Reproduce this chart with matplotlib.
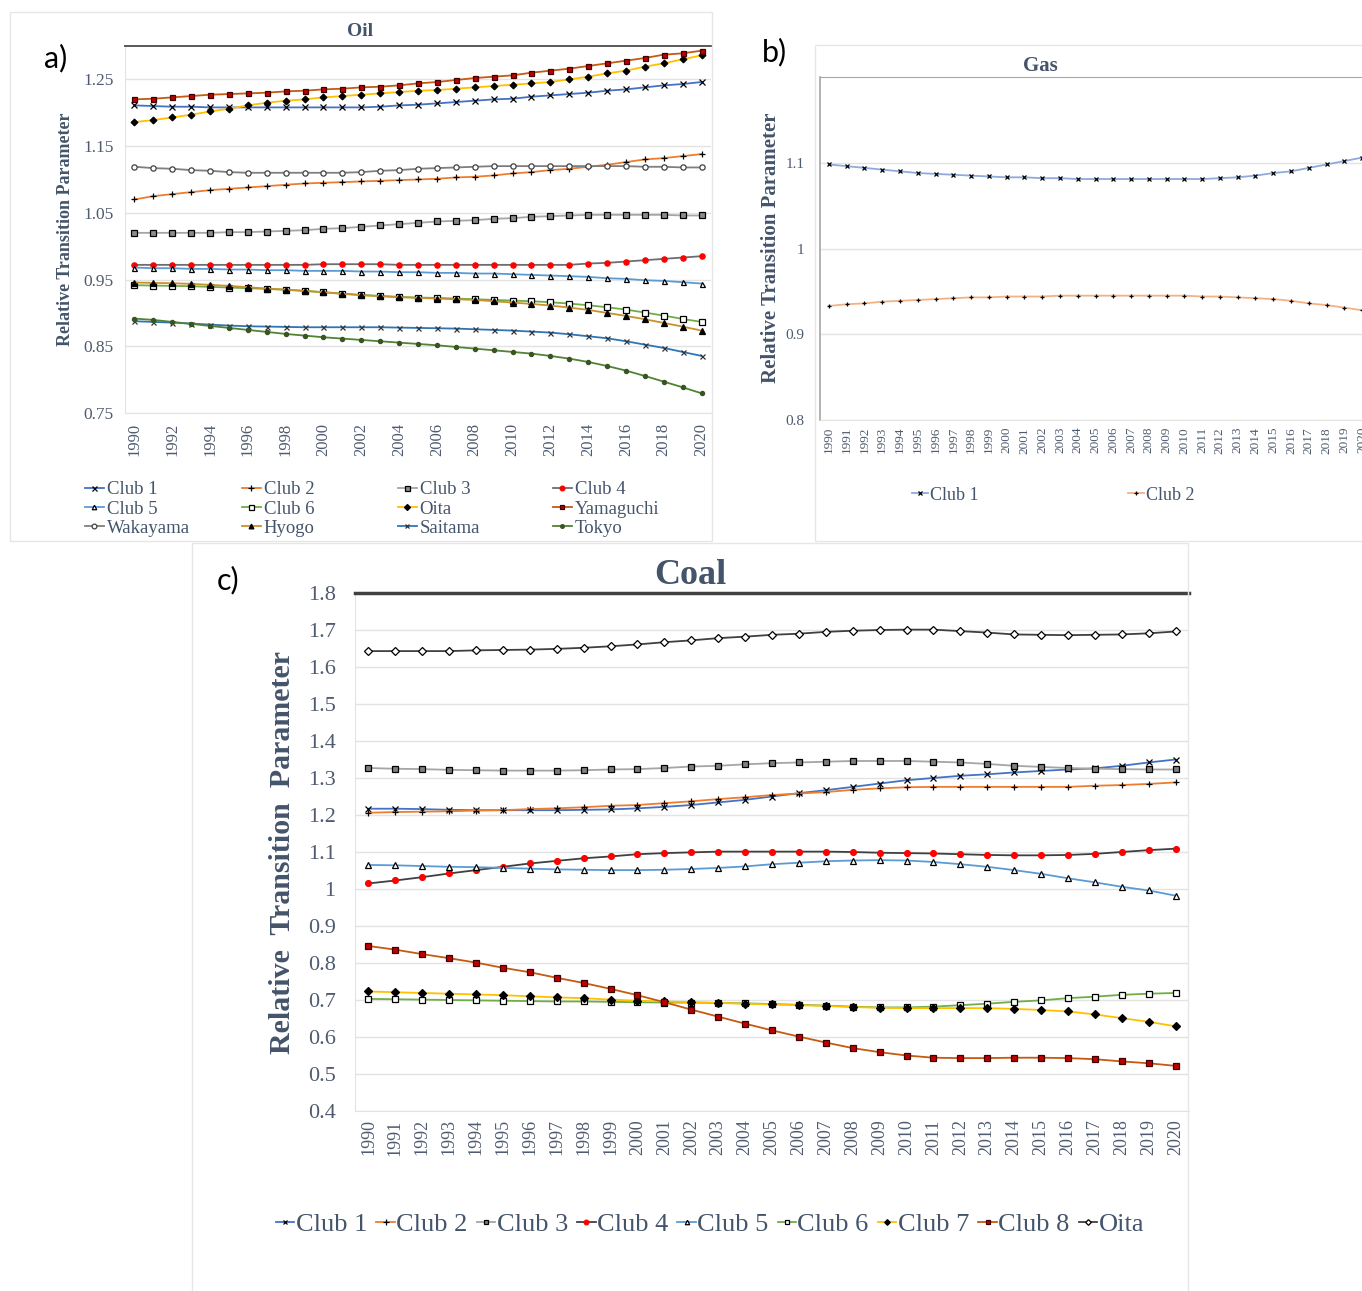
import matplotlib
matplotlib.use("Agg")
import matplotlib.pyplot as plt
from matplotlib.patches import Rectangle

plt.rcParams['font.family'] = ['Liberation Serif', 'DejaVu Serif']

years = list(range(1990, 2021))

# ---------------- Oil ----------------
oil_club1 = [1.211,1.210,1.209,1.209,1.208,1.208,1.208,1.208,1.208,1.208,1.208,1.208,1.208,1.209,1.211,1.212,1.214,1.216,1.218,1.220,1.221,1.224,1.226,1.228,1.230,1.233,1.235,1.238,1.241,1.243,1.246]
oil_club2 = [1.070,1.075,1.078,1.081,1.084,1.086,1.088,1.090,1.092,1.094,1.095,1.096,1.097,1.098,1.099,1.100,1.101,1.103,1.104,1.106,1.109,1.111,1.114,1.116,1.119,1.122,1.126,1.130,1.132,1.135,1.138]
oil_club3 = [1.020,1.020,1.020,1.020,1.020,1.021,1.021,1.022,1.023,1.024,1.026,1.027,1.029,1.031,1.033,1.035,1.037,1.038,1.039,1.041,1.042,1.044,1.045,1.046,1.047,1.047,1.047,1.047,1.047,1.046,1.046]
oil_club4 = [0.972,0.972,0.972,0.972,0.972,0.972,0.972,0.972,0.972,0.972,0.973,0.973,0.973,0.973,0.972,0.972,0.972,0.972,0.972,0.972,0.972,0.972,0.972,0.972,0.974,0.975,0.977,0.979,0.981,0.983,0.985]
oil_club5 = [0.968,0.967,0.967,0.966,0.966,0.965,0.965,0.964,0.964,0.963,0.963,0.963,0.962,0.962,0.961,0.961,0.960,0.960,0.959,0.959,0.958,0.957,0.956,0.955,0.954,0.952,0.951,0.949,0.948,0.946,0.944]
oil_club6 = [0.9415,0.941,0.9405,0.940,0.939,0.938,0.937,0.936,0.9345,0.933,0.931,0.929,0.927,0.9255,0.924,0.923,0.9225,0.9215,0.9205,0.9195,0.9185,0.9175,0.916,0.914,0.9115,0.9085,0.905,0.9005,0.896,0.891,0.8865]
oil_oita = [1.186,1.189,1.193,1.197,1.202,1.206,1.211,1.215,1.218,1.220,1.223,1.225,1.227,1.229,1.231,1.233,1.234,1.236,1.238,1.240,1.242,1.244,1.246,1.250,1.254,1.259,1.263,1.269,1.274,1.280,1.286]
oil_yamaguchi = [1.220,1.221,1.223,1.225,1.227,1.228,1.229,1.230,1.232,1.233,1.235,1.236,1.238,1.239,1.241,1.244,1.246,1.249,1.252,1.254,1.256,1.260,1.263,1.266,1.270,1.274,1.278,1.282,1.287,1.289,1.293]
oil_wakayama = [1.119,1.117,1.116,1.114,1.113,1.111,1.110,1.110,1.110,1.110,1.110,1.110,1.111,1.113,1.114,1.116,1.117,1.118,1.119,1.120,1.120,1.120,1.120,1.120,1.120,1.120,1.120,1.119,1.119,1.118,1.118]
oil_hyogo = [0.9455,0.945,0.9445,0.9435,0.942,0.9405,0.9385,0.9365,0.935,0.933,0.931,0.9285,0.9265,0.925,0.9235,0.9225,0.9215,0.9205,0.9195,0.9175,0.9155,0.9135,0.911,0.908,0.9045,0.900,0.8955,0.8905,0.885,0.8795,0.8735]
oil_saitama = [0.8875,0.8865,0.8855,0.884,0.8825,0.881,0.880,0.8795,0.879,0.8785,0.8785,0.8785,0.8785,0.8785,0.878,0.8775,0.877,0.8765,0.8755,0.8745,0.8735,0.872,0.8705,0.868,0.865,0.862,0.8575,0.8525,0.8475,0.8415,0.8355]
oil_tokyo = [0.8915,0.8895,0.8865,0.8835,0.8805,0.8775,0.8745,0.8715,0.8685,0.866,0.8635,0.8615,0.8595,0.8575,0.8555,0.8535,0.8515,0.849,0.8465,0.844,0.8415,0.839,0.8355,0.8315,0.8265,0.8205,0.8135,0.8055,0.797,0.7885,0.7795]

oil_names = ["Club 1", "Club 2", "Club 3", "Club 4", "Club 5", "Club 6",
             "Oita", "Yamaguchi", "Wakayama", "Hyogo", "Saitama", "Tokyo"]
oil_series = [oil_club1, oil_club2, oil_club3, oil_club4, oil_club5, oil_club6,
              oil_oita, oil_yamaguchi, oil_wakayama, oil_hyogo, oil_saitama, oil_tokyo]
oil_yticks = [0.75, 0.85, 0.95, 1.05, 1.15, 1.25]

# ---------------- Gas ----------------
gas_club1 = [1.098,1.096,1.094,1.092,1.090,1.088,1.087,1.086,1.085,1.084,1.083,1.083,1.082,1.082,1.081,1.081,1.081,1.081,1.081,1.081,1.081,1.081,1.082,1.083,1.085,1.088,1.090,1.094,1.098,1.102,1.106]
gas_club2 = [0.933,0.935,0.936,0.938,0.939,0.940,0.941,0.942,0.943,0.943,0.944,0.944,0.944,0.945,0.945,0.945,0.945,0.945,0.945,0.945,0.945,0.944,0.944,0.943,0.942,0.941,0.939,0.936,0.934,0.931,0.928]
gas_names = ["Club 1", "Club 2"]
gas_series = [gas_club1, gas_club2]
gas_yticks = [0.8, 0.9, 1.0, 1.1]
gas_yticklabels = ["0.8", "0.9", "1", "1.1"]

# ---------------- Coal ----------------
coal_club1 = [1.217,1.217,1.216,1.214,1.213,1.213,1.213,1.213,1.214,1.215,1.218,1.222,1.227,1.234,1.241,1.250,1.259,1.267,1.276,1.285,1.294,1.300,1.306,1.310,1.315,1.319,1.323,1.326,1.333,1.342,1.350]
coal_club2 = [1.206,1.208,1.209,1.210,1.212,1.213,1.216,1.218,1.221,1.225,1.227,1.232,1.237,1.243,1.248,1.254,1.258,1.262,1.268,1.272,1.275,1.276,1.276,1.276,1.276,1.276,1.276,1.279,1.281,1.284,1.288]
coal_club3 = [1.327,1.325,1.324,1.322,1.321,1.320,1.320,1.320,1.321,1.323,1.324,1.327,1.331,1.333,1.337,1.340,1.342,1.344,1.346,1.346,1.346,1.344,1.342,1.338,1.333,1.330,1.327,1.325,1.324,1.323,1.323]
coal_club4 = [1.015,1.023,1.032,1.042,1.051,1.060,1.069,1.076,1.083,1.088,1.094,1.097,1.099,1.101,1.101,1.101,1.101,1.101,1.100,1.098,1.097,1.096,1.094,1.092,1.091,1.091,1.092,1.095,1.100,1.105,1.109]
coal_club5 = [1.065,1.064,1.062,1.060,1.059,1.057,1.055,1.053,1.052,1.051,1.051,1.052,1.054,1.057,1.061,1.067,1.071,1.075,1.077,1.078,1.077,1.073,1.067,1.060,1.051,1.041,1.029,1.018,1.006,0.996,0.982]
coal_club6 = [0.703,0.702,0.701,0.700,0.699,0.698,0.697,0.696,0.696,0.695,0.694,0.693,0.693,0.692,0.691,0.689,0.687,0.685,0.682,0.680,0.680,0.682,0.686,0.690,0.695,0.699,0.705,0.709,0.714,0.717,0.719]
coal_club7 = [0.723,0.721,0.719,0.717,0.715,0.713,0.710,0.707,0.705,0.701,0.698,0.696,0.694,0.692,0.690,0.688,0.686,0.684,0.681,0.679,0.678,0.678,0.678,0.678,0.676,0.673,0.669,0.661,0.651,0.641,0.629]
coal_club8 = [0.846,0.836,0.824,0.813,0.801,0.787,0.775,0.760,0.746,0.730,0.713,0.694,0.674,0.655,0.636,0.618,0.601,0.585,0.570,0.559,0.550,0.544,0.543,0.543,0.544,0.544,0.543,0.540,0.534,0.529,0.522]
coal_oita = [1.643,1.643,1.643,1.643,1.645,1.646,1.647,1.649,1.652,1.656,1.661,1.667,1.672,1.678,1.682,1.687,1.690,1.695,1.698,1.700,1.701,1.701,1.697,1.693,1.688,1.687,1.686,1.687,1.688,1.691,1.696]
coal_names = ["Club 1", "Club 2", "Club 3", "Club 4", "Club 5", "Club 6", "Club 7", "Club 8", "Oita"]
coal_series = [coal_club1, coal_club2, coal_club3, coal_club4, coal_club5, coal_club6,
               coal_club7, coal_club8, coal_oita]
coal_yticks = [0.4, 0.5, 0.6, 0.7, 0.8, 0.9, 1.0, 1.1, 1.2, 1.3, 1.4, 1.5, 1.6, 1.7, 1.8]
coal_yticklabels = ["0.4", "0.5", "0.6", "0.7", "0.8", "0.9", "1", "1.1", "1.2", "1.3",
                    "1.4", "1.5", "1.6", "1.7", "1.8"]

# ---------------- styles ----------------
oil_style = {
    "Club 1":    dict(color="#4472C4", marker="x", mfc="k", mec="k", ms=4.0),
    "Club 2":    dict(color="#ED7D31", marker="+", mfc="k", mec="k", ms=4.5),
    "Club 3":    dict(color="#A5A5A5", marker="s", mfc="#8C8C8C", mec="k", ms=4.0),
    "Club 4":    dict(color="#6E6E6E", marker="o", mfc="#FF0000", mec="#FF0000", ms=3.8),
    "Club 5":    dict(color="#5B9BD5", marker="^", mfc="white", mec="k", ms=3.6),
    "Club 6":    dict(color="#70AD47", marker="s", mfc="white", mec="k", ms=4.0),
    "Oita":      dict(color="#FFC000", marker="D", mfc="k", mec="k", ms=3.4),
    "Yamaguchi": dict(color="#C55A11", marker="s", mfc="#C00000", mec="#400000", ms=3.6),
    "Wakayama":  dict(color="#7F7F7F", marker="o", mfc="white", mec="#404040", ms=3.8),
    "Hyogo":     dict(color="#C9912B", marker="^", mfc="k", mec="k", ms=3.8),
    "Saitama":   dict(color="#2E75B6", marker="x", mfc="k", mec="#333333", ms=3.6),
    "Tokyo":     dict(color="#548235", marker="o", mfc="#375623", mec="#375623", ms=3.0),
}
coal_style = {
    "Club 1": dict(color="#4472C4", marker="x", mfc="k", mec="k", ms=4.4),
    "Club 2": dict(color="#ED7D31", marker="+", mfc="k", mec="k", ms=5.0),
    "Club 3": dict(color="#A5A5A5", marker="s", mfc="#7F7F7F", mec="k", ms=4.2),
    "Club 4": dict(color="#404040", marker="o", mfc="#FF0000", mec="#FF0000", ms=4.2),
    "Club 5": dict(color="#5B9BD5", marker="^", mfc="white", mec="k", ms=4.0),
    "Club 6": dict(color="#70AD47", marker="s", mfc="white", mec="k", ms=4.2),
    "Club 7": dict(color="#FFC000", marker="D", mfc="k", mec="k", ms=3.6),
    "Club 8": dict(color="#C55A11", marker="s", mfc="#C00000", mec="#400000", ms=3.8),
    "Oita":   dict(color="#404040", marker="D", mfc="white", mec="k", ms=3.6),
}
gas_style = {
    "Club 1": dict(color="#8FAADC", marker="x", mfc="k", mec="k", ms=3.2),
    "Club 2": dict(color="#F4B183", marker="+", mfc="k", mec="k", ms=3.4),
}

TXT = "#44546A"
TICK = "#4F5B70"
GRID = "#E3E3E3"

W, H = 1362, 1291
fig = plt.figure(figsize=(W / 100, H / 100), dpi=100)
fig.patch.set_facecolor("white")


def fx(x):
    return x / W


def fy(y):
    return 1 - y / H


def add_ax(l, t, r, b):
    return fig.add_axes([fx(l), fy(b), (r - l) / W, (b - t) / H])


# faint panel frames
for (x0, y0, x1, y1) in [(10, 12, 712, 541), (815, 45, 1372, 541), (192, 543, 1188, 1300)]:
    fig.patches.append(Rectangle((fx(x0), fy(y1)), (x1 - x0) / W, (y1 - y0) / H,
                                 transform=fig.transFigure, fill=False,
                                 edgecolor="#E6E6E6", lw=1.0, zorder=0))

x_idx = list(range(len(years)))


def style_axis(ax, yticks, ylabels, ylim, ytick_fs, xtick_fs, xstep, ypad, xpad):
    ax.set_xlim(-0.5, len(years) - 0.5)
    ax.set_ylim(*ylim)
    ax.set_yticks(yticks)
    ax.set_yticklabels(ylabels)
    ax.set_xticks(x_idx[::xstep])
    ax.set_xticklabels([str(y) for y in years[::xstep]], rotation=90)
    ax.tick_params(axis="y", length=0, labelsize=ytick_fs, labelcolor=TICK, pad=ypad)
    ax.tick_params(axis="x", length=0, labelsize=xtick_fs, labelcolor=TICK, pad=xpad)
    ax.grid(axis="y", color=GRID, lw=1.0)
    ax.set_axisbelow(True)
    ax.spines["right"].set_visible(False)
    ax.spines["bottom"].set_color(GRID)
    ax.spines["left"].set_color(GRID)


def draw(ax, names, series, styles, lw):
    out = {}
    for name, vals in zip(names, series):
        st = styles[name]
        ln, = ax.plot(x_idx, vals, color=st["color"], lw=lw, marker=st["marker"],
                      markersize=st["ms"], markerfacecolor=st["mfc"],
                      markeredgecolor=st["mec"], markeredgewidth=0.9, label=name)
        out[name] = ln
    return out


# ---------------- Panel a: Oil ----------------
ax_a = add_ax(125, 46, 711, 413)
oil_lines = draw(ax_a, oil_names, oil_series, oil_style, 1.3)
style_axis(ax_a, oil_yticks, [f"{v:.2f}" for v in oil_yticks], (0.75, 1.30), 12.5, 12, 2, 8, 7)
ax_a.spines["top"].set_color("#595959")
ax_a.spines["top"].set_linewidth(1.4)
fig.text(fx(360), fy(32), "Oil", ha="center", va="center", fontsize=14, fontweight="bold", color=TXT)
fig.text(fx(65), fy(229), "Relative Transition Parameter", rotation=90, ha="center", va="center",
         fontsize=13, fontweight="bold", color=TXT)
fig.text(fx(56), fy(58), "a)", ha="center", va="center", fontsize=22, family="Lato", color="black")

oil_cols = [["Club 1", "Club 5", "Wakayama"], ["Club 2", "Club 6", "Hyogo"],
            ["Club 3", "Oita", "Saitama"], ["Club 4", "Yamaguchi", "Tokyo"]]
for cx, col in zip([85, 242, 398, 553], oil_cols):
    fig.legend([oil_lines[n] for n in col], col, loc="center left",
               bbox_to_anchor=(fx(cx), fy(509)), frameon=False, fontsize=13.5,
               handlelength=1.0, handletextpad=0.15, labelspacing=0.12, borderpad=0,
               borderaxespad=0, labelcolor=TXT, markerscale=0.9)

# ---------------- Panel b: Gas ----------------
ax_b = add_ax(820, 77, 1371, 420)
gas_lines = draw(ax_b, gas_names, gas_series, gas_style, 1.3)
style_axis(ax_b, gas_yticks, gas_yticklabels, (0.8, 1.2), 11, 9.5, 1, 11, 5)
ax_b.spines["top"].set_color("#A6A6A6")
ax_b.spines["left"].set_color("#A6A6A6")
ax_b.spines["left"].set_linewidth(1.2)
fig.text(fx(1040), fy(66), "Gas", ha="center", va="center", fontsize=15, fontweight="bold", color=TXT)
fig.text(fx(771), fy(248), "Relative Transition Parameter", rotation=90, ha="center", va="center",
         fontsize=15, fontweight="bold", color=TXT)
fig.text(fx(774), fy(52), "b)", ha="center", va="center", fontsize=22, family="Lato", color="black")
for cx, nm in zip([912, 1128], gas_names):
    fig.legend([gas_lines[nm]], [nm], loc="center left", bbox_to_anchor=(fx(cx), fy(495)),
               frameon=False, fontsize=13, handlelength=0.9, handletextpad=0.1, borderpad=0,
               borderaxespad=0, labelcolor=TXT)

# ---------------- Panel c: Coal ----------------
ax_c = add_ax(355, 593, 1189, 1111)
coal_lines = draw(ax_c, coal_names, coal_series, coal_style, 1.3)
style_axis(ax_c, coal_yticks, coal_yticklabels, (0.4, 1.8), 16, 13, 1, 14, 6)
ax_c.spines["top"].set_color("#404040")
ax_c.spines["top"].set_linewidth(2.5)
fig.text(fx(690), fy(575), "Coal", ha="center", va="center", fontsize=26, fontweight="bold", color=TXT)
fig.text(fx(283), fy(852), "Relative  Transition  Parameter", rotation=90, ha="center", va="center",
         fontsize=21.5, fontweight="bold", color=TXT)
fig.text(fx(228), fy(580), "c)", ha="center", va="center", fontsize=22, family="Lato", color="black")
fig.legend([coal_lines[n] for n in coal_names], coal_names, loc="center",
           bbox_to_anchor=(fx(710), fy(1224)), ncol=9, frameon=False, fontsize=19,
           handlelength=0.7, handletextpad=0.05, columnspacing=0.35, borderpad=0,
           borderaxespad=0, labelcolor=TXT, markerscale=0.8)

fig.savefig("out.png", dpi=100, facecolor="white")
